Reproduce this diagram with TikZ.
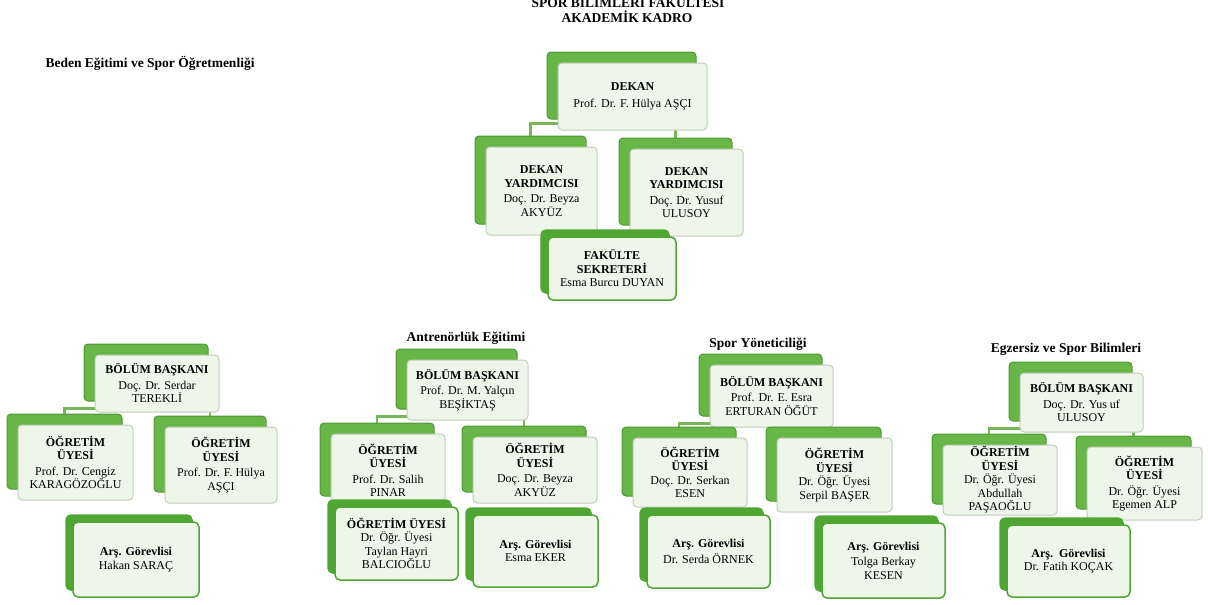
\documentclass[tikz,border=0pt]{standalone}
\usepackage{fontspec}
\setmainfont{Liberation Serif}
\usetikzlibrary{shadows, backgrounds}
\definecolor{leafgreen}{RGB}{104,181,72}
\definecolor{leafdark}{RGB}{80,152,54}
\definecolor{paleleaf}{RGB}{238,246,234}
\definecolor{boxrim}{RGB}{192,206,188}
\definecolor{tabgreen}{RGB}{80,166,50}
\definecolor{linkgreen}{RGB}{118,184,88}
\newcommand{\boxfont}{\fontsize{12}{13.5}\selectfont}
\tikzset{
	x=1pt, y=-1pt, % one unit is one pixel of the page
	unit/.style={draw=boxrim, line width=1pt, fill=paleleaf, rounded corners=4pt,
		align=center, font=\boxfont, inner sep=1pt,
		copy shadow={shadow xshift=-11pt, shadow yshift=11pt, fill=leafgreen, draw=leafdark, line width=1pt}}, % board members
	staff/.style={draw=tabgreen, line width=1.5pt, fill=paleleaf, rounded corners=5pt,
		align=center, font=\boxfont, inner sep=1pt,
		copy shadow={shadow xshift=-7pt, shadow yshift=7pt, fill=tabgreen, draw=tabgreen}}, % assistants and secretary
	box/.style 2 args={minimum width=#1pt, minimum height=#2pt},
	link/.style={draw=linkgreen, line width=2.2pt},
	dept/.style={font=\bfseries\fontsize{13.5}{15}\selectfont, anchor=base},
	headline/.style={font=\bfseries\fontsize{13.5}{15}\selectfont, anchor=base},
}
\begin{document}
\begin{tikzpicture}
	\useasboundingbox (0,0) rectangle (1208,605);
	% titles
	\node[headline] (faculty) at (628,8) {SPOR BİLİMLERİ FAKÜLTESİ};
	\node[headline] (staffhead) at (627,23) {AKADEMİK KADRO};
	\node[dept] (bes) at (150,67) {Beden Eğitimi ve Spor Öğretmenliği};
	\node[dept] (ant) at (466,341) {Antrenörlük Eğitimi};
	\node[dept] (sy) at (758,347) {Spor Yöneticiliği};
	\node[dept] (esb) at (1066,352) {Egzersiz ve Spor Bilimleri};
	% faculty board
	\node[unit, box={149}{67}] (dekan) at (632.5,96.5) {\textbf{DEKAN}\\[3pt]Prof. Dr. F. Hülya AŞÇI};
	\node[unit, box={111}{88}] (yard1) at (541.5,191) {\textbf{DEKAN}\\\textbf{YARDIMCISI}\\[2pt]Doç. Dr. Beyza\\AKYÜZ};
	\node[unit, box={113}{87}] (yard2) at (686.5,192.5) {\textbf{DEKAN}\\\textbf{YARDIMCISI}\\[2pt]Doç. Dr. Yusuf\\ULUSOY};
	\node[staff, box={128}{63}] (sekr) at (612,268.5) {\textbf{FAKÜLTE}\\\textbf{SEKRETERİ}\\Esma Burcu DUYAN};
	% Beden Egitimi ve Spor Ogretmenligi
	\node[unit, box={124}{57}] (bb1) at (157,383.5) {\textbf{BÖLÜM BAŞKANI}\\[2pt]Doç. Dr. Serdar\\TEREKLİ};
	\node[unit, box={115}{75}] (ou11) at (75.5,462.5) {\textbf{ÖĞRETİM}\\\textbf{ÜYESİ}\\[2pt]Prof. Dr. Cengiz\\KARAGÖZOĞLU};
	\node[unit, box={112}{76}] (ou12) at (221,465) {\textbf{ÖĞRETİM}\\\textbf{ÜYESİ}\\[2pt]Prof. Dr. F. Hülya\\AŞÇI};
	\node[staff, box={126}{75}] (ag1) at (136,559.5) {\textbf{Arş. Görevlisi}\\Hakan SARAÇ};
	% Antrenorluk Egitimi
	\node[unit, box={121}{60}] (bb2) at (467.5,390) {\textbf{BÖLÜM BAŞKANI}\\[2pt]Prof. Dr. M. Yalçın\\BEŞİKTAŞ};
	\node[unit, box={114}{73}] (ou21) at (388,470.5) {\textbf{ÖĞRETİM}\\\textbf{ÜYESİ}\\[2pt]Prof. Dr. Salih\\PINAR};
	\node[unit, box={124}{66}] (ou22) at (535,470) {\textbf{ÖĞRETİM}\\\textbf{ÜYESİ}\\[2pt]Doç. Dr. Beyza\\AKYÜZ};
	\node[staff, box={123}{73}] (ou23) at (396.5,543.5) {\textbf{ÖĞRETİM ÜYESİ}\\Dr. Öğr. Üyesi\\Taylan Hayri\\BALCIOĞLU};
	\node[staff, box={125}{72}] (ag2) at (535.5,551) {\textbf{Arş. Görevlisi}\\Esma EKER};
	% Spor Yoneticiligi
	\node[unit, box={123}{62}] (bb3) at (771.5,396) {\textbf{BÖLÜM BAŞKANI}\\[2pt]Prof. Dr. E. Esra\\ERTURAN ÖĞÜT};
	\node[unit, box={114}{69}] (ou31) at (690,472.5) {\textbf{ÖĞRETİM}\\\textbf{ÜYESİ}\\Doç. Dr. Serkan\\ESEN};
	\node[unit, box={115}{74}] (ou32) at (834.5,475) {\textbf{ÖĞRETİM}\\\textbf{ÜYESİ}\\Dr. Öğr. Üyesi\\Serpil BAŞER};
	\node[staff, box={123}{73}] (ag31) at (708.5,551.5) {\textbf{Arş. Görevlisi}\\[3pt]Dr. Serda ÖRNEK};
	\node[staff, box={123}{75}] (ag32) at (883.5,560.5) {\textbf{Arş. Görevlisi}\\[2pt]Tolga Berkay\\KESEN};
	% Egzersiz ve Spor Bilimleri
	\node[unit, box={123}{59}] (bb4) at (1081.5,402.5) {\textbf{BÖLÜM BAŞKANI}\\[2pt]Doç. Dr. Yus uf\\ULUSOY};
	\node[unit, box={114}{70}] (ou41) at (1000,480) {\textbf{ÖĞRETİM}\\\textbf{ÜYESİ}\\Dr. Öğr. Üyesi\\Abdullah\\PAŞAOĞLU};
	\node[unit, box={115}{73}] (ou42) at (1144.5,483.5) {\textbf{ÖĞRETİM}\\\textbf{ÜYESİ}\\[2pt]Dr. Öğr. Üyesi\\Egemen ALP};
	\node[staff, box={123}{72}] (ag4) at (1068.5,561) {\textbf{Arş.\ \ Görevlisi}\\Dr. Fatih KOÇAK};
	% connectors behind the boxes
	\begin{scope}[on background layer]
		\draw[link] ([yshift=7pt]dekan.south) -| ([xshift=-11pt]yard1.north);
		\draw[link] ([yshift=7pt]dekan.south) -| ([xshift=-11pt]yard2.north);
		\foreach \head/\left/\right in {bb1/ou11/ou12, bb2/ou21/ou22, bb3/ou31/ou32, bb4/ou41/ou42} {
			\draw[link] ([yshift=4pt]\head.south) -| ([xshift=-11pt]\left.north);
			\draw[link] ([yshift=4pt]\head.south) -| ([xshift=-11pt]\right.north);
		}
	\end{scope}
\end{tikzpicture}
\end{document}
